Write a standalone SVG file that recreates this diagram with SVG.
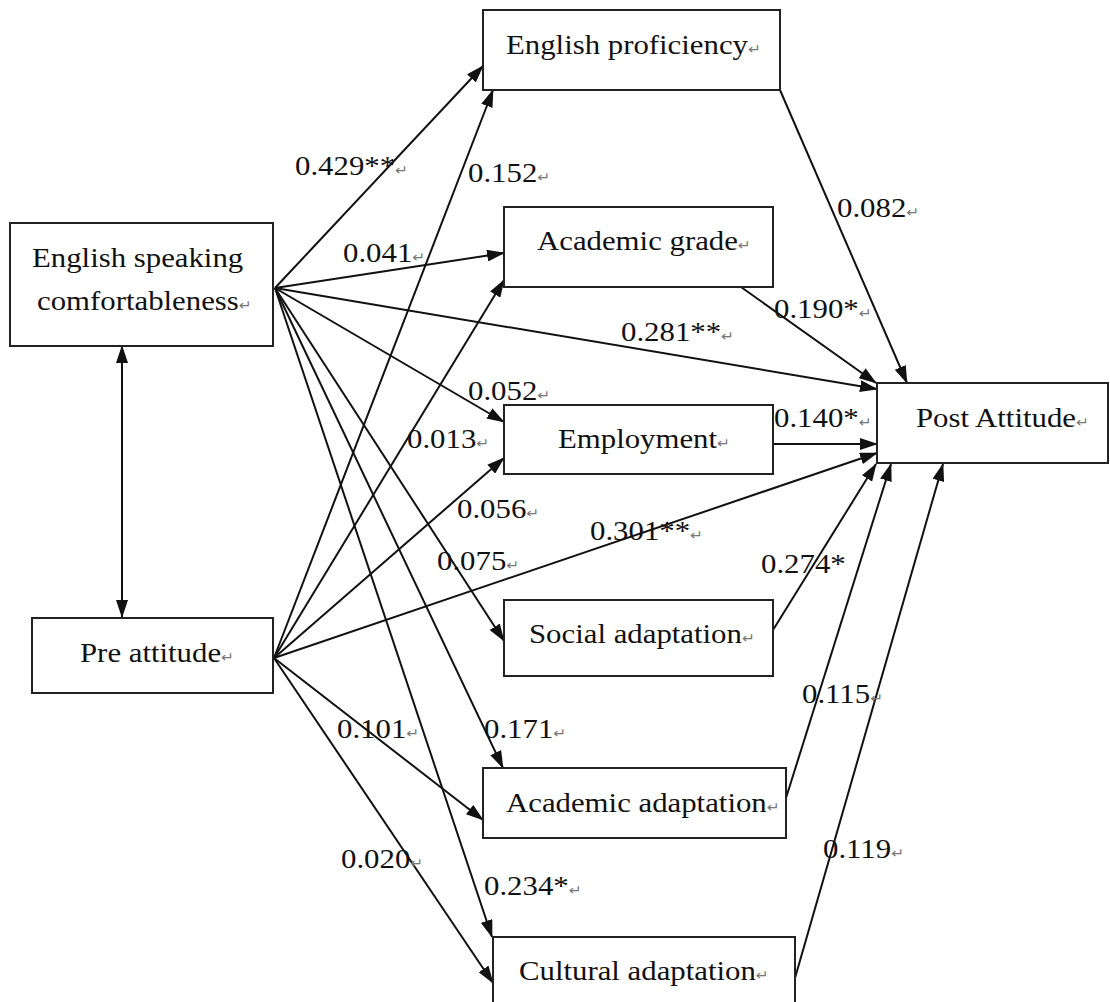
<svg xmlns="http://www.w3.org/2000/svg" width="1110" height="1002" viewBox="0 0 1110 1002">
<style>
  .box { fill: #ffffff; stroke: #222222; stroke-width: 2; }
  .t { font-family: "Liberation Serif", "Times New Roman", serif; font-size: 28px; fill: #111111; }
  .ret { font-family: "DejaVu Sans", sans-serif; font-size: 14px; fill: #777777; }
  .edge { stroke: #111111; stroke-width: 2; fill: none; marker-end: url(#ah); }
  .lbl { font-family: "Liberation Serif", "Times New Roman", serif; font-size: 28px; fill: #111111; }
</style>
<defs>
  <marker id="ah" viewBox="0 0 18 12" refX="17" refY="6" markerWidth="18" markerHeight="12" orient="auto-start-reverse" markerUnits="userSpaceOnUse">
    <path d="M0,0 L18,6 L0,12 z" fill="#111111"/>
  </marker>
</defs>
<rect width="1110" height="1002" fill="#ffffff"/>

<g id="connectors">
  <line class="edge" x1="122" y1="346" x2="122" y2="617" style="marker-start:url(#ah)"/>
  <line class="edge" x1="275" y1="288" x2="483" y2="66"/>
  <line class="edge" x1="275" y1="288" x2="504" y2="253"/>
  <line class="edge" x1="275" y1="288" x2="877" y2="389"/>
  <line class="edge" x1="275" y1="288" x2="504" y2="422"/>
  <line class="edge" x1="275" y1="288" x2="504" y2="641"/>
  <line class="edge" x1="275" y1="288" x2="503" y2="768"/>
  <line class="edge" x1="275" y1="288" x2="492" y2="937"/>
  <line class="edge" x1="274" y1="658" x2="493" y2="90"/>
  <line class="edge" x1="274" y1="658" x2="504" y2="280"/>
  <line class="edge" x1="274" y1="658" x2="504" y2="458"/>
  <line class="edge" x1="274" y1="658" x2="877" y2="453"/>
  <line class="edge" x1="274" y1="658" x2="483" y2="820"/>
  <line class="edge" x1="274" y1="658" x2="493" y2="983"/>
  <line class="edge" x1="780" y1="90" x2="907" y2="383"/>
  <line class="edge" x1="741" y1="287" x2="876" y2="383"/>
  <line class="edge" x1="773" y1="444" x2="877" y2="444"/>
  <line class="edge" x1="773" y1="630" x2="876" y2="464"/>
  <line class="edge" x1="786" y1="798" x2="891" y2="464"/>
  <line class="edge" x1="795" y1="978" x2="943" y2="464"/>
</g>

<g id="node-esc">
  <rect class="box" x="10" y="223" width="263" height="123"/>
  <text class="t" transform="translate(32,267) scale(1.1,1)">English speaking</text>
  <text class="t" transform="translate(37,310) scale(1.1,1)">comfortableness<tspan class="ret">↵</tspan></text>
</g>
<g id="node-pre">
  <rect class="box" x="32" y="618" width="241" height="75"/>
  <text class="t" transform="translate(80,662) scale(1.1,1)">Pre attitude<tspan class="ret">↵</tspan></text>
</g>
<g id="node-ep">
  <rect class="box" x="483" y="10" width="297" height="80"/>
  <text class="t" transform="translate(506,54) scale(1.1,1)">English proficiency<tspan class="ret">↵</tspan></text>
</g>
<g id="node-ag">
  <rect class="box" x="504" y="207" width="269" height="80"/>
  <text class="t" transform="translate(537,250) scale(1.1,1)">Academic grade<tspan class="ret">↵</tspan></text>
</g>
<g id="node-emp">
  <rect class="box" x="504" y="405" width="269" height="69"/>
  <text class="t" transform="translate(558,448) scale(1.1,1)">Employment<tspan class="ret">↵</tspan></text>
</g>
<g id="node-soc">
  <rect class="box" x="504" y="600" width="269" height="76"/>
  <text class="t" transform="translate(529,643) scale(1.1,1)">Social adaptation<tspan class="ret">↵</tspan></text>
</g>
<g id="node-aa">
  <rect class="box" x="483" y="768" width="303" height="70"/>
  <text class="t" transform="translate(506,812) scale(1.1,1)">Academic adaptation<tspan class="ret">↵</tspan></text>
</g>
<g id="node-ca">
  <rect class="box" x="493" y="937" width="302" height="85"/>
  <text class="t" transform="translate(519,980) scale(1.1,1)">Cultural adaptation<tspan class="ret">↵</tspan></text>
</g>
<g id="node-post">
  <rect class="box" x="877" y="383" width="231" height="80"/>
  <text class="t" transform="translate(916,427) scale(1.1,1)">Post Attitude<tspan class="ret">↵</tspan></text>
</g>

<g id="labels">
  <text class="lbl" transform="translate(295,175) scale(1.1,1)">0.429**<tspan class="ret">↵</tspan></text>
  <text class="lbl" transform="translate(468,182) scale(1.1,1)">0.152<tspan class="ret">↵</tspan></text>
  <text class="lbl" transform="translate(343,262) scale(1.1,1)">0.041<tspan class="ret">↵</tspan></text>
  <text class="lbl" transform="translate(837,217) scale(1.1,1)">0.082<tspan class="ret">↵</tspan></text>
  <text class="lbl" transform="translate(774,318) scale(1.1,1)">0.190*<tspan class="ret">↵</tspan></text>
  <text class="lbl" transform="translate(621,341) scale(1.1,1)">0.281**<tspan class="ret">↵</tspan></text>
  <text class="lbl" transform="translate(468,400) scale(1.1,1)">0.052<tspan class="ret">↵</tspan></text>
  <text class="lbl" transform="translate(407,448) scale(1.1,1)">0.013<tspan class="ret">↵</tspan></text>
  <text class="lbl" transform="translate(774,427) scale(1.1,1)">0.140*<tspan class="ret">↵</tspan></text>
  <text class="lbl" transform="translate(457,518) scale(1.1,1)">0.056<tspan class="ret">↵</tspan></text>
  <text class="lbl" transform="translate(590,540) scale(1.1,1)">0.301**<tspan class="ret">↵</tspan></text>
  <text class="lbl" transform="translate(437,570) scale(1.1,1)">0.075<tspan class="ret">↵</tspan></text>
  <text class="lbl" transform="translate(761,573) scale(1.1,1)">0.274*</text>
  <text class="lbl" transform="translate(337,738) scale(1.1,1)">0.101<tspan class="ret">↵</tspan></text>
  <text class="lbl" transform="translate(484,738) scale(1.1,1)">0.171<tspan class="ret">↵</tspan></text>
  <text class="lbl" transform="translate(802,703) scale(1.1,1)">0.115<tspan class="ret">↵</tspan></text>
  <text class="lbl" transform="translate(341,868) scale(1.1,1)">0.020<tspan class="ret">↵</tspan></text>
  <text class="lbl" transform="translate(484,895) scale(1.1,1)">0.234*<tspan class="ret">↵</tspan></text>
  <text class="lbl" transform="translate(823,858) scale(1.1,1)">0.119<tspan class="ret">↵</tspan></text>
</g>
</svg>
